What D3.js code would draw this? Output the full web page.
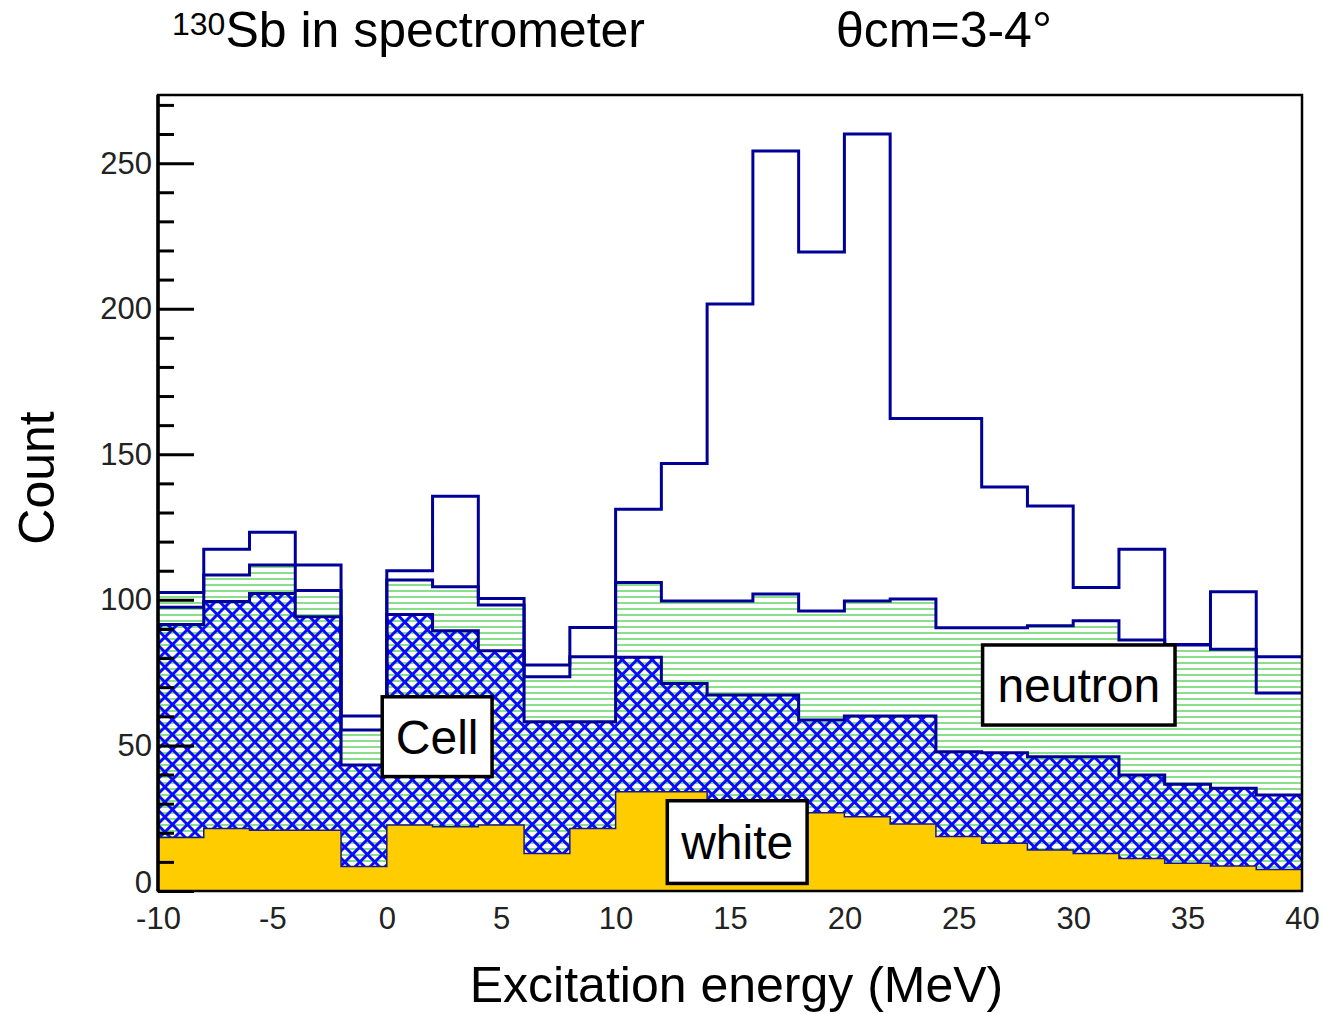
<!DOCTYPE html>
<html><head><meta charset="utf-8">
<script src="https://cdn.jsdelivr.net/npm/d3@7"></script>
<style>
body{margin:0;background:#fff}
svg{display:block}
text{font-family:"Liberation Sans",Arial,Helvetica,sans-serif}
</style>
</head><body>
<svg id="chart" width="1324" height="1014"></svg>
<script>
// ---- data (2 MeV bins from -10 to 40 MeV) ----
const binStarts = [-10,-8,-6,-4,-2,0,2,4,6,8,10,12,14,16,18,20,22,24,26,28,30,32,34,36,38];
const binWidth = 2;
const measured = [97.5,117.4,123.2,112,60.1,110,135.6,100.5,77.6,90.5,131.1,146.8,201.6,254.2,219.5,260,162.3,162.3,138.8,132.2,104.2,117.4,84.7,102.8,68];
const white    = [18.4,21.5,20.9,20.9,8.4,22.7,22.1,22.7,12.9,21.5,34.1,34.1,29.5,28,26.9,25.5,23,18.7,16.4,14.1,12.9,11.2,9.5,8.6,7.4];
const cell     = [73.1,77.9,81.3,73.3,34.9,72.3,67.3,59.8,45.2,36.6,46.2,37.2,37.8,39.3,31.8,34.6,37.1,29.1,31.1,32.0,33.2,28.6,27.2,26.7,25.6];
const neutron  = [11.0,9.1,9.8,9.0,12.0,11.8,15.1,15.7,15.5,22.4,25.7,28.3,32.3,34.7,37.5,39.5,40.2,42.6,42.9,45.0,46.7,46.4,47.8,47.7,47.5];
const seriesKeys = ["white","cell","neutron"];
const yMajorTicks = [0,50,100,150,200,250];
const yMinorTicks = [10,20,30,40,60,70,80,90,110,120,130,140,160,170,180,190,210,220,230,240,260,270];
const xTicks = [-10,-5,0,5,10,15,20,25,30,35,40];
const xLabel = "Excitation energy (MeV)";
const yLabel = "Count";
const labels = [
  {text:"Cell",    x0:-0.2, x1:4.6,  y0:39.3, y1:66.7},
  {text:"white",   x0:12.26,x1:18.37,y0:2.6,  y1:31.0},
  {text:"neutron", x0:26.04,x1:34.45,y0:57.0, y1:84.5}
];

// ---- layout ----
const svg = d3.select("#chart");
const L=158, R=1302, T=95, B=891;
const x = d3.scaleLinear().domain([-10,40]).range([L,R]);
const y = d3.scaleLinear().domain([0,273.4]).range([B,T]);

const defs = svg.append("defs");
defs.append("clipPath").attr("id","plotclip").append("rect")
  .attr("x",L).attr("y",T).attr("width",R-L).attr("height",B-T);
const ph = defs.append("pattern").attr("id","hatchH").attr("patternUnits","userSpaceOnUse")
  .attr("width",10).attr("height",6);
ph.append("line").attr("x1",0).attr("x2",10).attr("y1",3).attr("y2",3)
  .attr("stroke","#6cd86c").attr("stroke-width",1.6);
const s = 10.6;
const px = defs.append("pattern").attr("id","hatchX").attr("patternUnits","userSpaceOnUse")
  .attr("width",s).attr("height",s).attr("patternTransform","rotate(45)");
px.append("path").attr("d",`M0,${s/2}H${s}M${s/2},0V${s}`)
  .attr("stroke","#0a0aff").attr("stroke-width",3).attr("fill","none");

// stack
const rows = binStarts.map((b,i)=>({x0:b, white:white[i], cell:cell[i], neutron:neutron[i]}));
const stacked = d3.stack().keys(seriesKeys)(rows);
const layerTop = k => {
  const layer = stacked.find(l=>l.key===k);
  const pts = layer.map((d,i)=>({x:binStarts[i], v:d[1]}));
  pts.push({x:binStarts[binStarts.length-1]+binWidth, v:pts[pts.length-1].v});
  return pts;
};
const measuredPts = binStarts.map((b,i)=>({x:b, v:measured[i]}));
measuredPts.push({x:binStarts[binStarts.length-1]+binWidth, v:measured[measured.length-1]});

const area = d3.area().curve(d3.curveStepAfter).x(d=>x(d.x)).y0(y(0)).y1(d=>y(d.v));
const line = d3.line().curve(d3.curveStepAfter).x(d=>x(d.x)).y(d=>y(d.v));

const g = svg.append("g").attr("clip-path","url(#plotclip)");
const nPts = layerTop("neutron"), cPts = layerTop("cell"), wPts = layerTop("white");
g.append("path").datum(nPts).attr("d",area).attr("fill","url(#hatchH)");
g.append("path").datum(nPts).attr("d",line).attr("fill","none").attr("stroke","#000099").attr("stroke-width",3);
g.append("path").datum(cPts).attr("d",area).attr("fill","url(#hatchX)");
g.append("path").datum(cPts).attr("d",line).attr("fill","none").attr("stroke","#000099").attr("stroke-width",3);
g.append("path").datum(wPts).attr("d",area).attr("fill","#ffcc00");
g.append("path").datum(wPts).attr("d",line).attr("fill","none").attr("stroke","#1a1a80").attr("stroke-width",1.5);
g.append("path").datum(measuredPts).attr("d",line).attr("fill","none").attr("stroke","#000099").attr("stroke-width",3);

// label boxes
const lb = svg.append("g");
labels.forEach(d=>{
  lb.append("rect").attr("x",x(d.x0)).attr("y",y(d.y1))
    .attr("width",x(d.x1)-x(d.x0)).attr("height",y(d.y0)-y(d.y1))
    .attr("fill","#fff").attr("stroke","#000").attr("stroke-width",3.5);
  lb.append("text").attr("x",(x(d.x0)+x(d.x1))/2).attr("y",(y(d.y0)+y(d.y1))/2)
    .attr("dy","0.36em").attr("text-anchor","middle").attr("font-size",48).attr("fill","#000").text(d.text);
});

// frame
svg.append("rect").attr("x",L).attr("y",T).attr("width",R-L).attr("height",B-T)
  .attr("fill","none").attr("stroke","#000").attr("stroke-width",2.5);
svg.append("line").attr("x1",L).attr("x2",L).attr("y1",T).attr("y2",B).attr("stroke","#000").attr("stroke-width",3.5);

// y axis
const yMaj = svg.append("g").attr("transform",`translate(${L},0)`)
  .call(d3.axisLeft(y).tickValues(yMajorTicks).tickSizeInner(-36).tickSizeOuter(0).tickPadding(6).tickFormat(d=>String(d)));
yMaj.select(".domain").remove();
yMaj.selectAll("line").attr("stroke","#000").attr("stroke-width",3);
yMaj.selectAll("text").attr("font-size",31).attr("fill","#222").style("font-family",'"Liberation Sans",Arial,sans-serif');
yMaj.selectAll(".tick").filter(d=>d===0).select("text").attr("dy","0.06em");
const yMin = svg.append("g").attr("transform",`translate(${L},0)`)
  .call(d3.axisLeft(y).tickValues(yMinorTicks).tickSizeInner(-16).tickSizeOuter(0).tickFormat(""));
yMin.select(".domain").remove();
yMin.selectAll("line").attr("stroke","#000").attr("stroke-width",3);

// x axis
const xAx = svg.append("g").attr("transform",`translate(0,${B})`)
  .call(d3.axisBottom(x).tickValues(xTicks).tickSize(0).tickPadding(16).tickFormat(d=>String(d)));
xAx.select(".domain").remove();
xAx.selectAll("text").attr("font-size",31).attr("fill","#222").style("font-family",'"Liberation Sans",Arial,sans-serif');

// axis titles
svg.append("text").attr("x",736.5).attr("y",1002).attr("text-anchor","middle")
  .attr("font-size",50).attr("fill","#000").text(xLabel);
svg.append("text").attr("transform","translate(54,478) rotate(-90)").attr("text-anchor","middle")
  .attr("font-size",50).attr("fill","#000").text(yLabel);

// titles
const t1 = svg.append("text").attr("x",172).attr("y",47).attr("fill","#000");
t1.append("tspan").attr("font-size",32).attr("dy",-12).text("130");
t1.append("tspan").attr("font-size",50).attr("dy",12).text("Sb in spectrometer");
svg.append("text").attr("x",836).attr("y",47).attr("font-size",50).attr("fill","#000").text("θcm=3-4°");
</script>
</body></html>
